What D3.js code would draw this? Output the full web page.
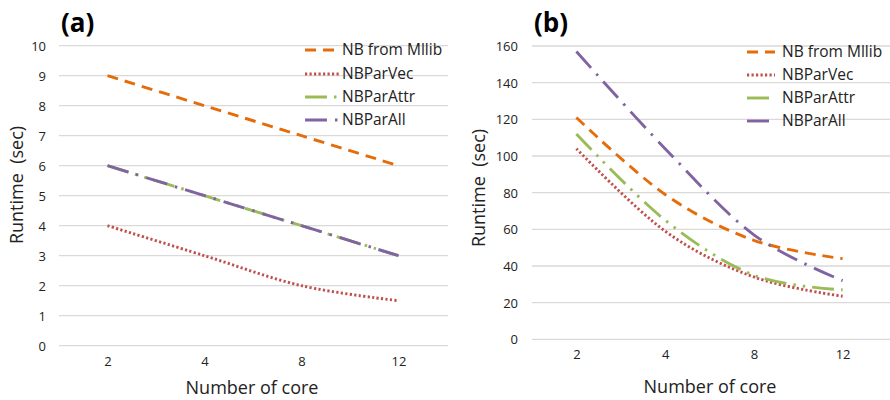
<!DOCTYPE html>
<html><head><meta charset="utf-8">
<script src="https://cdn.jsdelivr.net/npm/d3@7"></script>
<style>body{margin:0;background:#fff}text{font-family:"Open Sans",sans-serif}</style>
</head><body>
<svg id="c" width="890" height="400"></svg>
<script>
const categories = ["2","4","8","12"];
const seriesNames = ["NB from Mllib","NBParVec","NBParAttr","NBParAll"];
// Panel (a)
const aMllib = [9, 8, 7, 6];
const aVec   = [4, 3, 2, 1.5];
const aAttr  = [6, 5, 4, 3];
const aAll   = [6, 5, 4, 3];
const aTicks = [0,1,2,3,4,5,6,7,8,9,10];
// Panel (b)
const bMllib = [121, 79, 54, 44];
const bVec   = [104, 59, 34, 23.5];
const bAttr  = [112, 65, 35, 27];
const bAll   = [157, 104, 57, 32];
const bTicks = [0,20,40,60,80,100,120,140,160];

const colors = ["#E46C0A","#C0504D","#9BBB59","#8064A2"];
const dashes = ["11,7","2.2,2.3","22,7,2.5,7,2.5,7","22,8,2.5,8"];

const svg = d3.select("#c");

function panel(cfg){
  const g = svg.append("g");
  const x = d3.scalePoint().domain(categories).range([cfg.left, cfg.right]).padding(0.5);
  const y = d3.scaleLinear().domain([0, cfg.max]).range([cfg.y0, cfg.yTop]);
  g.selectAll("line.grid").data(cfg.ticks).enter().append("line")
    .attr("x1", cfg.left).attr("x2", cfg.gridRight)
    .attr("y1", d=>y(d)).attr("y2", d=>y(d))
    .attr("stroke", "#d9d9d9").attr("stroke-width", 1.3);
  const ya = d3.axisLeft(y).tickValues(cfg.ticks).tickSize(0).tickPadding(0);
  const yg = g.append("g").attr("transform", `translate(${cfg.ylabX},0)`).call(ya);
  yg.select(".domain").remove();
  yg.selectAll("text").attr("font-size", 13).attr("fill", "#222").attr("font-family","Open Sans").attr("dy","0.35em");
  const xa = d3.axisBottom(x).tickSize(0).tickPadding(0);
  const xg = g.append("g").attr("transform", `translate(0,${cfg.xlabY})`).call(xa);
  xg.select(".domain").remove();
  xg.selectAll("text").attr("font-size", 13).attr("fill", "#222").attr("font-family","Open Sans").attr("dy","0");
  const line = d3.line().x((d,i)=>x(categories[i])).y(d=>y(d)).curve(d3.curveCardinal);
  cfg.series.forEach((s,i)=>{
    g.append("path").attr("d", line(s)).attr("fill","none")
      .attr("stroke", colors[i]).attr("stroke-width", 2.9)
      .attr("stroke-dasharray", dashes[i]);
  });
  g.append("text").attr("x", cfg.xTitleX).attr("y", cfg.xTitleY).attr("text-anchor","middle")
    .attr("font-size", 18).attr("fill","#222").text("Number of core");
  g.append("text").attr("transform", `translate(${cfg.yTitleX},${cfg.yTitleY}) rotate(-90)`)
    .attr("text-anchor","middle").attr("font-size", 18).attr("fill","#222")
    .style("white-space","pre").text("Runtime  (sec)");
  g.append("text").attr("x", cfg.labelX).attr("y", 32).attr("font-size", 26).attr("font-weight","bold")
    .attr("font-family","Liberation Sans, Arial, sans-serif").attr("fill","#000").text(cfg.label);
  seriesNames.forEach((n,i)=>{
    const yy = cfg.legY[i];
    g.append("line").attr("x1", cfg.legX1).attr("x2", cfg.legX2).attr("y1", yy).attr("y2", yy)
      .attr("stroke", colors[i]).attr("stroke-width", 2.9).attr("stroke-dasharray", dashes[i]);
    g.append("text").attr("x", cfg.legTextX).attr("y", yy).attr("dy","0.35em")
      .attr("font-size", 15.5).attr("fill","#222").text(n);
  });
}

panel({left:59, right:447, gridRight:448, y0:345.7, yTop:45.7, max:10, ticks:aTicks,
  ylabX:46, xlabY:366, xTitleX:252, xTitleY:394, yTitleX:23, yTitleY:185, label:"(a)", labelX:61,
  series:[aMllib,aVec,aAttr,aAll], legX1:305, legX2:339, legTextX:342, legY:[50,74,97,120]});
panel({left:532, right:887, gridRight:890, y0:339.3, yTop:46, max:160, ticks:bTicks,
  ylabX:518, xlabY:359, xTitleX:710, xTitleY:393, yTitleX:485, yTitleY:188, label:"(b)", labelX:534,
  series:[bMllib,bVec,bAttr,bAll], legX1:747, legX2:775, legTextX:782, legY:[52,75,98,121]});
</script>
</body></html>
